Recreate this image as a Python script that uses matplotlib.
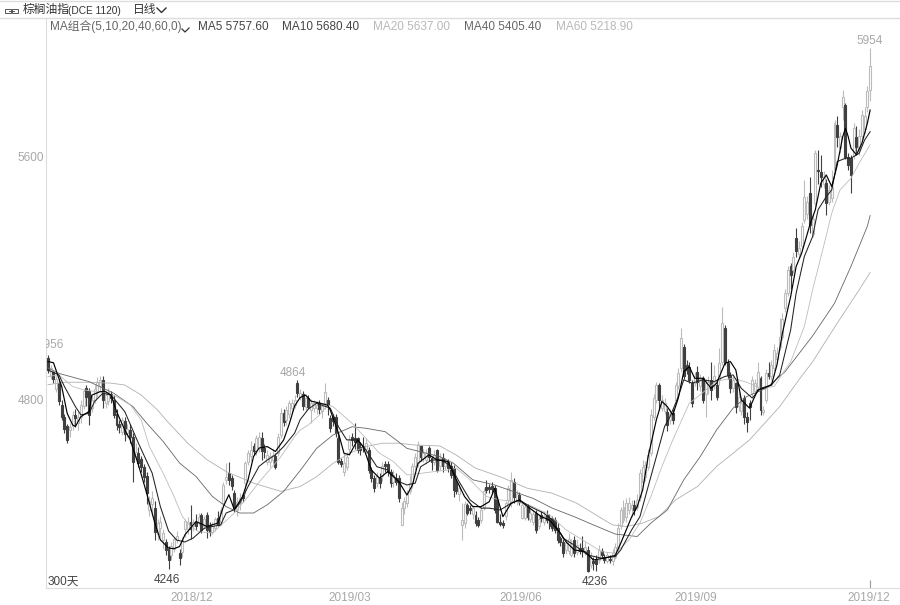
# Palm oil index daily candles with MA lines
import matplotlib
matplotlib.use('Agg')
import matplotlib.pyplot as plt
from matplotlib.patches import Rectangle

plt.rcParams['font.family'] = ['Liberation Sans', 'Noto Sans CJK SC']

opens = [4936,4880,4890,4835,4855,4785,4745,4715,4700,4715,
 4750,4725,4745,4780,4840,4830,4775,4800,4825,4845,
 4866,4790,4795,4820,4800,4755,4722,4695,4730,4690,
 4700,4680,4615,4625,4605,4580,4550,4440,4460,4445,
 4360,4380,4340,4335,4312,4290,4310,4340,4297,4300,
 4375,4375,4398,4385,4400,4400,4421,4385,4422,4390,
 4368,4380,4412,4400,4461,4538,4560,4543,4494,4440,
 4462,4489,4527,4598,4615,4649,4636,4647,4674,4642,
 4598,4598,4603,4616,4625,4685,4756,4735,4755,4772,
 4785,4855,4811,4820,4778,4805,4767,4772,4772,4790,
 4765,4789,4800,4740,4745,4745,4674,4601,4565,4580,
 4640,4680,4674,4674,4645,4648,4640,4636,4570,4543,
 4528,4543,4550,4590,4590,4565,4530,4545,4543,4390,
 4445,4462,4500,4527,4582,4592,4649,4608,4603,4641,
 4608,4595,4636,4582,4608,4582,4598,4582,4576,4527,
 4490,4390,4395,4456,4445,4425,4423,4406,4405,4450,
 4515,4514,4516,4510,4472,4400,4395,4418,4472,4461,
 4532,4470,4488,4412,4412,4450,4408,4400,4428,4385,
 4423,4400,4423,4412,4412,4406,4379,4346,4335,4308,
 4305,4290,4341,4300,4314,4314,4300,4308,4260,4270,
 4275,4275,4303,4286,4272,4278,4270,4286,4313,4385,
 4406,4417,4440,4445,4456,4450,4483,4532,4548,4581,
 4625,4745,4800,4849,4775,4765,4762,4735,4756,4800,
 4845,4904,4975,4915,4909,4855,4855,4893,4845,4871,
 4820,4840,4866,4850,4850,4866,4926,5035,4920,4877,
 4840,4855,4780,4765,4806,4745,4790,4822,4830,4844,
 4871,4760,4800,4888,4880,4905,4935,4975,5005,5101,
 5150,5238,5225,5331,5280,5305,5391,5410,5478,5345,
 5445,5555,5547,5510,5513,5450,5462,5555,5702,5625,
 5762,5766,5598,5593,5605,5662,5620,5665,5690,5760,
 5817]
closes = [4898,4905,4870,4870,4795,4745,4703,4670,4712,4750,
 4742,4745,4785,4830,4810,4750,4800,4835,4860,4865,
 4800,4815,4825,4805,4750,4718,4710,4735,4688,4705,
 4680,4598,4628,4592,4580,4548,4495,4470,4477,4368,
 4395,4400,4362,4308,4275,4320,4345,4352,4283,4340,
 4402,4400,4378,4400,4385,4415,4374,4408,4372,4368,
 4385,4408,4390,4440,4521,4548,4537,4516,4445,4465,
 4478,4478,4592,4625,4636,4631,4674,4680,4631,4628,
 4620,4615,4620,4579,4680,4756,4729,4768,4790,4790,
 4800,4822,4822,4780,4805,4778,4790,4790,4785,4770,
 4780,4827,4783,4707,4730,4690,4598,4590,4592,4612,
 4670,4668,4663,4636,4635,4645,4660,4570,4543,4510,
 4550,4527,4582,4582,4565,4527,4555,4532,4477,4445,
 4470,4495,4527,4582,4614,4652,4614,4625,4625,4614,
 4597,4620,4570,4608,4582,4592,4576,4554,4505,4500,
 4510,4407,4460,4428,4438,4445,4395,4390,4438,4500,
 4505,4507,4507,4439,4401,4392,4390,4461,4510,4538,
 4483,4490,4466,4455,4450,4417,4430,4425,4373,4410,
 4412,4420,4406,4385,4379,4373,4341,4335,4297,4330,
 4345,4320,4297,4325,4303,4303,4318,4240,4280,4264,
 4262,4308,4292,4275,4290,4274,4297,4319,4380,4439,
 4450,4461,4461,4456,4440,4472,4560,4581,4587,4620,
 4751,4806,4849,4800,4800,4790,4718,4755,4735,4849,
 4887,5002,4877,4898,4866,4789,4877,4860,4870,4800,
 4855,4860,4833,4880,4811,4920,5051,4926,4882,4838,
 4865,4778,4810,4790,4745,4729,4778,4866,4855,4893,
 4767,4768,4888,4880,4915,4965,4955,5008,5065,5150,
 5227,5210,5270,5287,5300,5370,5467,5450,5374,5395,
 5609,5550,5531,5532,5445,5490,5500,5708,5664,5665,
 5795,5598,5571,5538,5692,5631,5665,5735,5730,5812,
 5894]
highs = [4948,4915,4896,4880,4870,4800,4755,4722,4725,4765,
 4770,4760,4800,4835,4850,4840,4815,4850,4875,4880,
 4878,4830,4840,4830,4815,4770,4735,4745,4745,4720,
 4720,4690,4660,4645,4615,4590,4565,4485,4500,4470,
 4410,4420,4375,4345,4320,4335,4350,4370,4310,4350,
 4410,4415,4455,4410,4425,4430,4430,4420,4432,4400,
 4400,4415,4435,4450,4530,4592,4595,4555,4505,4480,
 4495,4495,4600,4635,4665,4660,4685,4695,4696,4655,
 4635,4630,4640,4625,4690,4775,4770,4780,4800,4802,
 4815,4864,4835,4828,4815,4815,4802,4800,4795,4800,
 4790,4854,4810,4750,4755,4755,4690,4610,4625,4630,
 4685,4692,4723,4680,4660,4680,4675,4645,4580,4555,
 4565,4560,4595,4600,4600,4575,4570,4560,4555,4465,
 4480,4505,4555,4592,4625,4665,4652,4640,4640,4650,
 4615,4635,4640,4625,4625,4610,4605,4595,4585,4540,
 4525,4461,4470,4461,4455,4455,4435,4415,4450,4510,
 4537,4525,4532,4520,4480,4425,4405,4470,4520,4563,
 4545,4505,4497,4465,4460,4460,4445,4440,4440,4425,
 4435,4435,4440,4425,4420,4415,4395,4355,4345,4345,
 4362,4345,4352,4345,4330,4352,4335,4320,4300,4285,
 4290,4325,4315,4295,4300,4290,4310,4330,4395,4450,
 4472,4478,4480,4472,4472,4490,4575,4603,4600,4640,
 4770,4820,4860,4855,4815,4805,4775,4770,4770,4860,
 4905,5035,4985,4930,4925,4865,4890,4910,4885,4880,
 4870,4880,4926,4915,4870,4970,5106,5045,4935,4890,
 4880,4860,4825,4810,4815,4760,4800,4880,4870,4925,
 4878,4780,4900,4925,4930,4985,4975,5070,5085,5165,
 5240,5250,5285,5363,5320,5385,5520,5470,5533,5410,
 5620,5620,5604,5550,5525,5505,5555,5718,5730,5680,
 5817,5775,5610,5605,5710,5700,5690,5750,5760,5830,
 5954]
lows = [4888,4870,4855,4825,4785,4735,4690,4660,4680,4700,
 4710,4700,4725,4770,4780,4718,4760,4790,4810,4830,
 4775,4775,4785,4790,4740,4700,4690,4685,4665,4680,
 4660,4530,4605,4580,4565,4530,4460,4420,4420,4340,
 4340,4350,4310,4290,4246,4275,4300,4330,4258,4285,
 4350,4360,4345,4370,4372,4390,4364,4375,4347,4355,
 4360,4370,4385,4390,4450,4525,4520,4505,4432,4420,
 4440,4465,4490,4585,4600,4620,4620,4630,4603,4610,
 4585,4580,4590,4573,4615,4675,4715,4718,4740,4760,
 4775,4811,4800,4768,4765,4770,4723,4760,4755,4755,
 4740,4770,4750,4695,4715,4680,4590,4580,4550,4570,
 4620,4650,4640,4625,4620,4630,4625,4560,4530,4497,
 4515,4510,4535,4565,4550,4515,4515,4520,4465,4390,
 4425,4450,4490,4510,4570,4580,4600,4595,4590,4600,
 4570,4585,4565,4570,4565,4570,4565,4545,4483,4490,
 4470,4341,4380,4423,4425,4410,4385,4382,4395,4440,
 4495,4495,4495,4430,4395,4385,4380,4405,4460,4450,
 4461,4455,4455,4410,4405,4405,4400,4390,4365,4375,
 4400,4390,4395,4375,4370,4365,4330,4320,4285,4295,
 4295,4285,4286,4290,4295,4285,4290,4236,4250,4243,
 4240,4265,4280,4265,4265,4265,4260,4278,4300,4375,
 4395,4400,4425,4417,4423,4440,4470,4520,4535,4570,
 4615,4735,4790,4768,4765,4755,4697,4720,4720,4790,
 4835,4890,4870,4885,4855,4778,4845,4833,4830,4790,
 4745,4820,4800,4835,4800,4850,4915,4915,4870,4822,
 4825,4757,4765,4750,4720,4696,4735,4810,4815,4830,
 4750,4750,4790,4870,4865,4895,4920,4965,4995,5090,
 5140,5165,5215,5270,5265,5295,5380,5395,5347,5335,
 5435,5510,5500,5495,5408,5440,5450,5545,5631,5610,
 5719,5590,5555,5478,5590,5610,5605,5655,5675,5745,
 5780]

ma5_i = [0,2,5,7,9,10,12,13,15,16,19,21,23,25,28,30,33,36,39,41,44,46,48,50,54,58,62,64,66,68,71,73,75,77,80,83,86,88,90,92,94,96,99,102,103,106,108,110,113,115,118,121,124,128,131,133,135,139,142,146,149,152,155,158,161,163,166,169,172,175,180,183,187,189,192,196,199,203,207,209,213,215,217,219,222,224,226,228,230,232,234,236,239,242,244,247,249,251,253,256,259,261,264,266,268,270,271,273,275,278,280,282,284,286,288,290,291,292,293,295,297,299,300]
ma5 = [4926,4922,4844,4756,4718,4713,4745,4751,4762,4816,4827,4827,4816,4762,4702,4669,4587,4494,4396,4341,4314,4312,4319,4358,4401,4385,4396,4450,4489,4440,4483,4538,4614,4642,4647,4631,4669,4720,4780,4808,4816,4796,4790,4783,4767,4691,4625,4620,4669,4647,4570,4543,4565,4532,4488,4521,4592,4620,4603,4598,4538,4483,4450,4450,4466,4510,4417,4461,4472,4450,4417,4406,4363,4335,4308,4302,4275,4281,4290,4330,4417,4450,4505,4614,4735,4795,4778,4751,4806,4893,4909,4871,4871,4838,4855,4920,4926,4898,4800,4773,4833,4838,4849,4915,5019,5100,5139,5238,5281,5374,5424,5511,5538,5500,5571,5664,5691,5664,5626,5604,5642,5708,5751]
ma10_i = [0,4,6,10,12,15,17,20,23,28,33,38,41,44,47,50,53,57,60,63,65,68,70,73,75,77,80,83,86,90,92,95,98,103,106,109,113,116,120,124,128,131,134,136,140,144,147,150,154,158,161,165,169,172,176,181,184,188,192,197,202,207,209,213,216,219,222,225,227,230,232,235,239,243,247,250,253,257,260,264,267,271,273,276,279,281,284,286,288,291,293,296,298,300]
ma10 = [4898,4882,4844,4778,4751,4756,4795,4822,4816,4762,4658,4560,4450,4370,4340,4334,4347,4379,4385,4390,4429,4440,4461,4516,4549,4582,4603,4620,4647,4691,4735,4770,4789,4773,4712,4669,4669,4636,4581,4570,4532,4521,4527,4581,4603,4603,4581,4532,4472,4445,4445,4439,4461,4472,4450,4428,4406,4346,4324,4291,4281,4286,4308,4374,4417,4516,4614,4713,4745,4811,4866,4855,4866,4860,4877,4882,4838,4806,4838,4849,4882,5030,5150,5271,5336,5424,5467,5489,5582,5593,5593,5609,5653,5680]
ma20_i = [0,4,9,13,17,19,25,30,34,37,42,46,49,52,55,60,64,68,73,77,85,90,92,95,99,102,104,111,116,121,126,131,136,141,146,149,154,160,165,171,177,183,189,197,202,207,212,216,220,224,228,234,238,244,250,255,260,265,269,271,276,279,283,286,289,293,296,300]
ma20 = [4877,4882,4844,4833,4828,4828,4811,4784,4735,4647,4560,4483,4418,4385,4368,4363,4396,4429,4483,4530,4614,4680,4701,4718,4750,4783,4778,4723,4674,4625,4598,4554,4559,4565,4570,4576,4538,4483,4472,4466,4450,4423,4374,4330,4302,4297,4341,4396,4483,4581,4669,4789,4817,4862,4871,4858,4838,4844,4900,4925,5041,5161,5303,5413,5489,5527,5577,5637]
ma40_i = [0,4,15,24,31,36,42,48,54,60,65,70,75,80,86,92,98,104,111,116,123,127,131,136,143,148,155,163,170,177,184,192,199,207,215,220,226,232,238,244,250,255,262,269,279,287,293,299,300]
ma40 = [4905,4887,4860,4822,4778,4724,4664,4593,4549,4483,4450,4429,4429,4456,4500,4568,4641,4685,4712,4707,4696,4669,4641,4630,4614,4592,4538,4521,4499,4477,4445,4417,4390,4360,4352,4396,4439,4538,4614,4702,4773,4811,4838,4893,5010,5117,5238,5370,5405]
ma60_i = [0,6,15,23,28,34,40,43,51,58,65,75,85,92,98,104,110,116,122,128,134,143,149,156,165,175,184,193,201,206,211,217,223,229,237,244,250,256,267,274,279,288,296,300]
ma60 = [4850,4858,4858,4855,4849,4816,4767,4735,4658,4604,4565,4527,4500,4516,4548,4592,4625,4647,4658,4658,4652,4649,4619,4576,4548,4510,4494,4461,4417,4390,4385,4396,4418,4472,4516,4582,4625,4669,4778,4866,4925,5052,5161,5218]

ma_names = ['MA5 5757.60', 'MA10 5680.40', 'MA20 5637.00', 'MA40 5405.40', 'MA60 5218.90']
yticks = [5600, 4800]
date_pos = [52.5, 110, 172.5, 236.5, 299.5]
date_labels = ['2018/12', '2019/03', '2019/06', '2019/09', '2019/12']

UP = '#bcbcbc'
DOWN = '#404040'
GRAY = '#a8a8a8'

fig = plt.figure(figsize=(9, 6.05), dpi=100)
ax = fig.add_axes([46/900, 17/605, 854/900, 570/605])
ax.set_xlim(-0.73, 310.9)
ax.set_ylim(4183, 6053)

# candles
for i in range(len(opens)):
    up = closes[i] >= opens[i]
    col = UP if up else DOWN
    ax.vlines(i, lows[i], highs[i], color=col, lw=0.8, zorder=2)
    bottom = min(opens[i], closes[i])
    height = abs(closes[i] - opens[i])
    ax.bar(i, height, bottom=bottom, width=0.72, facecolor='white' if up else DOWN,
           edgecolor=col, linewidth=0.8, zorder=3)

# moving averages
ax.plot(ma60_i, ma60, color='#b0b0b0', lw=0.6, zorder=4)
ax.plot(ma40_i, ma40, color='#666666', lw=0.6, zorder=4)
ax.plot(ma20_i, ma20, color='#bdbdbd', lw=0.6, zorder=4)
ax.plot(ma10_i, ma10, color='#222222', lw=0.75, zorder=5)
ax.plot(ma5_i, ma5, color='#000000', lw=0.85, zorder=6)

for s in ['top', 'right']:
    ax.spines[s].set_visible(False)
for s in ['left', 'bottom']:
    ax.spines[s].set_color('#dddddd')
ax.set_yticks(yticks)
ax.set_yticklabels([str(v) for v in yticks], color=GRAY, fontsize=8.5)
ax.set_xticks(date_pos)
ax.set_xticklabels(date_labels, color=GRAY, fontsize=8.5)
ax.tick_params(length=0, pad=3)
ax.tick_params(axis='y', pad=1.5)

# high and low labels
ax.text(1, 4980, '4956', color=GRAY, fontsize=8.5, ha='center', va='center', clip_on=True)
ax.text(89.5, 4887, '4864', color=GRAY, fontsize=8.5, ha='center', va='center')
ax.text(300, 5977, '5954', color=GRAY, fontsize=8.5, ha='center', va='center')
ax.text(43.5, 4210, '4246', color='#444444', fontsize=8.5, ha='center', va='center')
ax.text(199.5, 4203, '4236', color='#444444', fontsize=8.5, ha='center', va='center')
ax.text(0, 4205, '300天', color='#444444', fontsize=8.5, ha='left', va='center')
ax.vlines(300, 4183, 4210, color='#999999', lw=0.8)

# header, drawn in pixel coordinates
top = fig.add_axes([0, 0, 1, 1], facecolor='none')
top.set_xlim(0, 900)
top.set_ylim(605, 0)
top.axis('off')
top.axhline(0.5, color='#dddddd', lw=1)
top.plot([0, 900], [18, 18], color='#dddddd', lw=1)
top.add_patch(Rectangle((5, 9), 6, 4, fill=False, ec='#555555', lw=0.7))
top.add_patch(Rectangle((12, 9), 6, 4, fill=False, ec='#555555', lw=0.7))
top.plot([9, 14], [11, 11], color='#555555', lw=0.7)
top.text(23, 10.5, '棕榈油指', color='#333333', fontsize=8.5, va='center')
top.text(68, 10.5, '(DCE 1120)', color='#333333', fontsize=7.3, va='center')
top.text(133, 10.5, '日线', color='#333333', fontsize=8.5, va='center')
top.plot([157, 161.5, 166], [8, 12.5, 8], color='#333333', lw=1)
top.text(50, 27, 'MA组合(5,10,20,40,60,0)', color='#666666', fontsize=8.5, va='center')
top.plot([182, 185, 189], [29, 32, 28], color='#333333', lw=0.9)
for x, name, c in zip([198, 282, 373, 464, 556], ma_names,
                      ['#444444', '#444444', '#b8b8b8', '#666666', '#b8b8b8']):
    top.text(x, 27, name, color=c, fontsize=8.5, va='center')

fig.savefig('out.png', dpi=100)
